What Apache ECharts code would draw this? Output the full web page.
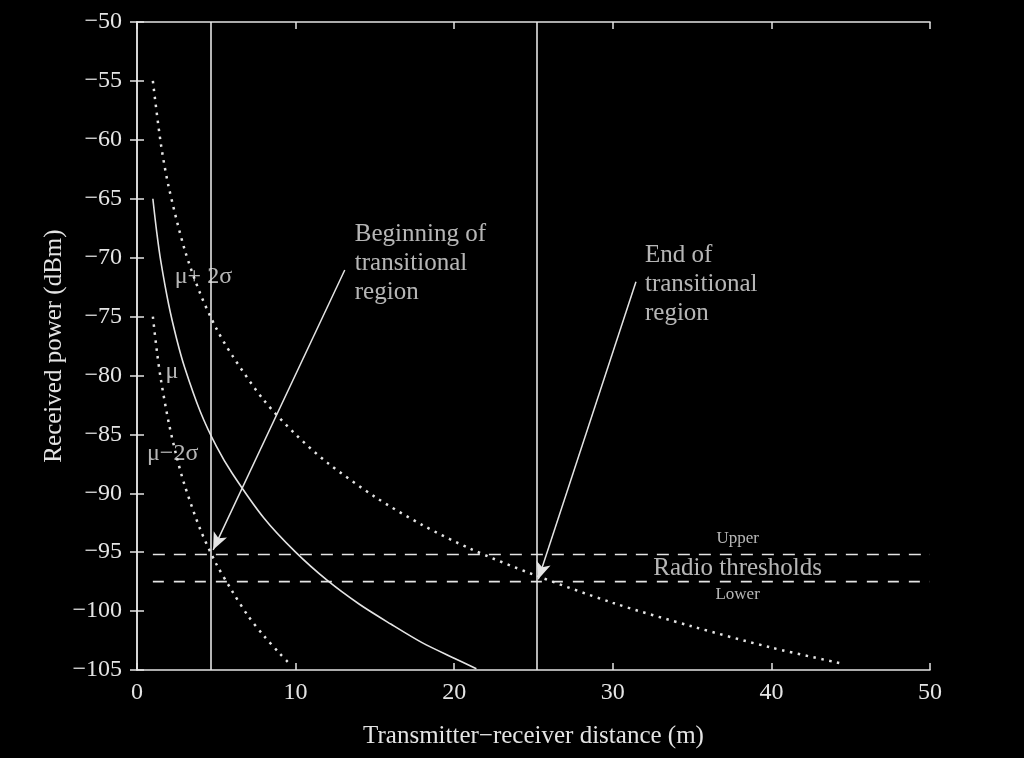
<!DOCTYPE html>
<html>
<head>
<meta charset="utf-8">
<script src="https://cdn.jsdelivr.net/npm/echarts@6/dist/echarts.min.js"></script>
<style>
html,body{margin:0;padding:0;background:#000;}
#chart{width:1024px;height:758px;}
</style>
</head>
<body>
<div id="chart"></div>
<script>
// ---- data ----
const muDist   = [1, 1.25, 1.5, 2, 2.5, 3, 4, 5, 6, 8, 10, 12, 14, 16, 18, 20, 21.4];
const muPower  = [-65, -67.9, -70.3, -74.0, -76.9, -79.3, -83.1, -86.0, -88.3, -92.1, -95.0, -97.4, -99.4, -101.1, -102.7, -104.0, -104.9];

const upDist   = [1, 1.5, 2, 3, 4, 5, 6, 8, 10, 12, 15, 18, 21, 25, 30, 35, 40, 44.6];
const upPower  = [-55, -60.3, -64.0, -69.3, -73.1, -76.0, -78.3, -82.1, -85.0, -87.4, -90.3, -92.7, -94.7, -96.9, -99.3, -101.3, -103.1, -104.5];

const loDist   = [1, 1.25, 1.5, 2, 2.5, 3, 4, 5, 6, 7, 8, 9, 9.5];
const loPower  = [-75, -77.9, -80.3, -84.0, -86.9, -89.3, -93.1, -96.0, -98.3, -100.4, -102.1, -103.6, -104.3];

const thresholdUpper = -95.2;
const thresholdLower = -97.5;
const thresholdRange = [1, 50];

const transitionStart = 4.65;
const transitionEnd   = 25.2;

const arrowBegin = [[13.1, -71.05], [4.8, -94.8]];
const arrowEnd   = [[31.46, -72.05], [25.3, -97.3]];

const xMin = 0, xMax = 50, xStep = 10;
const yMin = -105, yMax = -50, yStep = 5;

const labelsLeft = [
  {text: 'Beginning of\ntransitional\nregion', at: [13.73, -70.5], size: 25},
  {text: 'End of\ntransitional\nregion', at: [32.03, -72.3], size: 25},
  {text: 'μ+ 2σ', at: [2.38, -71.6], size: 24},
  {text: 'μ', at: [1.79, -79.7], size: 24},
  {text: 'μ−2σ', at: [0.63, -86.6], size: 24}
];
const labelsCenter = [
  {text: 'Upper', at: [37.87, -93.8], size: 17},
  {text: 'Radio thresholds', at: [37.87, -96.4], size: 25},
  {text: 'Lower', at: [37.87, -98.6], size: 17}
];

// ---- chart ----
const FG = '#e4e4e4';
const FONT = '"Liberation Serif", "DejaVu Serif", serif';
const zip = (a, b) => a.map((v, i) => [v, b[i]]);
const minus = v => (v < 0 ? '\u2212' + Math.abs(v) : String(v));

const axisCommon = {
  type: 'value',
  axisLine: {show: true, lineStyle: {color: FG, width: 1.5}},
  axisTick: {show: true, inside: true, length: 7, lineStyle: {color: FG, width: 1.5}},
  splitLine: {show: false}
};

const chart = echarts.init(document.getElementById('chart'));
chart.setOption({
  backgroundColor: '#000',
  animation: false,
  grid: {left: 137, right: 94, top: 22, bottom: 88},
  xAxis: [
    Object.assign({}, axisCommon, {
      position: 'bottom', min: xMin, max: xMax, interval: xStep,
      axisLabel: {color: FG, fontFamily: FONT, fontSize: 24, margin: 11},
      name: 'Transmitter\u2212receiver distance (m)', nameLocation: 'middle', nameGap: 54,
      nameMoveOverlap: false,
      nameTextStyle: {color: FG, fontFamily: FONT, fontSize: 25}
    }),
    Object.assign({}, axisCommon, {
      position: 'top', min: xMin, max: xMax, interval: xStep,
      axisLabel: {show: false}
    })
  ],
  yAxis: [
    Object.assign({}, axisCommon, {
      position: 'left', min: yMin, max: yMax, interval: yStep,
      axisLabel: {color: FG, fontFamily: FONT, fontSize: 24, margin: 15, formatter: minus},
      name: 'Received power (dBm)', nameLocation: 'middle', nameGap: 70, nameRotate: 90,
      nameMoveOverlap: false,
      nameTextStyle: {color: FG, fontFamily: FONT, fontSize: 25}
    }),
    Object.assign({}, axisCommon, {
      position: 'right', min: yMin, max: yMax, interval: yStep,
      axisLabel: {show: false}
    })
  ],
  series: [
    {
      name: 'mu', type: 'line', data: zip(muDist, muPower), smooth: 0.3,
      showSymbol: false, lineStyle: {color: FG, width: 1.6},
      markLine: {
        silent: true, symbol: ['none', 'none'],
        label: {show: false},
        lineStyle: {color: FG, width: 1.6, type: 'solid'},
        data: [{xAxis: transitionStart}, {xAxis: transitionEnd}]
      }
    },
    {
      name: 'mu+2sigma', type: 'line', data: zip(upDist, upPower), smooth: 0.3,
      showSymbol: false, lineStyle: {color: FG, width: 2.5, type: [2.5, 5.5]}
    },
    {
      name: 'mu-2sigma', type: 'line', data: zip(loDist, loPower), smooth: 0.3,
      showSymbol: false, lineStyle: {color: FG, width: 2.5, type: [2.5, 5.5]}
    },
    {
      name: 'upper', type: 'line', data: thresholdRange.map(d => [d, thresholdUpper]),
      showSymbol: false, lineStyle: {color: FG, width: 1.6, type: [12, 9]}
    },
    {
      name: 'lower', type: 'line', data: thresholdRange.map(d => [d, thresholdLower]),
      showSymbol: false, lineStyle: {color: FG, width: 1.6, type: [11, 10]}
    },
    {
      name: 'arrows', type: 'line', data: [],
      markLine: {
        silent: true, symbol: ['none', 'arrow'], symbolSize: [11, 17],
        label: {show: false},
        lineStyle: {color: FG, width: 1.5, type: 'solid'},
        data: [
          [{coord: arrowBegin[0]}, {coord: arrowBegin[1]}],
          [{coord: arrowEnd[0]}, {coord: arrowEnd[1]}]
        ]
      }
    },
    {
      name: 'notesLeft', type: 'scatter', symbolSize: 0, silent: true,
      data: labelsLeft.map(l => ({value: l.at, name: l.text, label: {fontSize: l.size}})),
      label: {
        show: true, position: 'right', distance: 0,
        formatter: p => p.name,
        color: FG, fontFamily: FONT, lineHeight: 29,
        align: 'left', verticalAlign: 'middle'
      }
    },
    {
      name: 'notesCenter', type: 'scatter', symbolSize: 0, silent: true,
      data: labelsCenter.map(l => ({
        value: l.at, name: l.text,
        label: {fontSize: l.size}
      })),
      label: {
        show: true, position: 'inside',
        formatter: p => p.name,
        color: FG, fontFamily: FONT,
        align: 'center', verticalAlign: 'middle'
      }
    }
  ]
});
</script>
</body>
</html>
